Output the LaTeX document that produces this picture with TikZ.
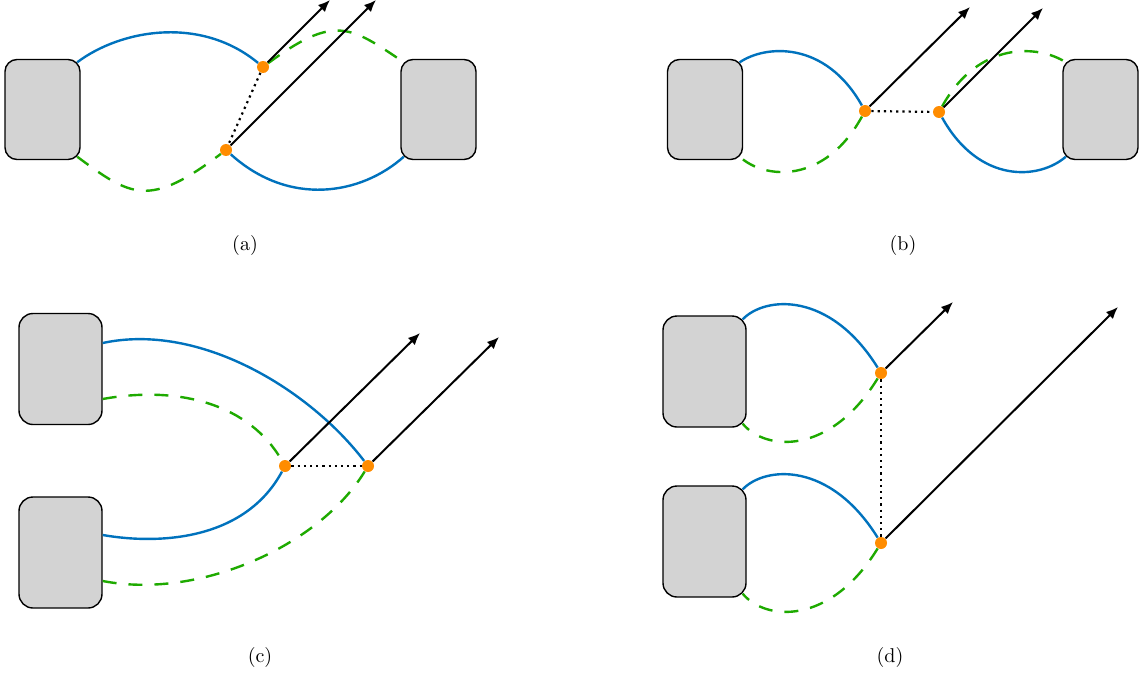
\documentclass[tikz,border=0pt]{standalone}
\usepackage{xcolor}
\usepackage{tikz}
\usetikzlibrary{arrows.meta}

\begin{document}
\begin{tikzpicture}[x=0.5pt, y=-0.5pt,
  scatola/.style={draw=black, line width=0.7pt, fill=colBox, rounded corners=6pt,
    minimum width=37.5pt, minimum height=50pt, inner sep=0pt},
  scatolaG/.style={scatola, rounded corners=7pt, minimum width=41.5pt, minimum height=55.5pt},
  punto/.style={circle, fill=colDot, inner sep=0pt, minimum size=6pt},
  blu/.style={colBlu, line width=1.2pt},
  verde/.style={colVer, line width=1.2pt, dash pattern=on 7pt off 6pt},
  freccia/.style={-{Latex[length=6pt,width=5pt]}, line width=1pt},
  legame/.style={dotted, line width=1.1pt}]

% Colori
\definecolor{colBlu}{HTML}{0072BD}
\definecolor{colVer}{RGB}{30,170,0}
\definecolor{colDot}{HTML}{FF8C00}
\definecolor{colBox}{HTML}{D3D3D3}

% Area del disegno
\useasboundingbox (0,0) rectangle (1144,674);

% Pannello (a)
\node[scatola] (aSx) at (42.5,109.5) {};
\node[scatola] (aDx) at (438.5,109.5) {};
\node[punto] (aA) at (263,67) {};
\node[punto] (aB) at (226,150) {};
\coordinate (aF1) at (330,0);
\coordinate (aF2) at (376,0);
\draw[blu] ([xshift=-1.75pt,yshift=-1.75pt]aSx.north east) .. controls (120,30) and (200,15) .. (aA);
\draw[blu] (aB) .. controls (289,207) and (361,195) .. ([xshift=1.75pt,yshift=1.75pt]aDx.south west);
\draw[verde] ([xshift=-1.75pt,yshift=1.75pt]aSx.south east) .. controls (131.5,197) and (149,208) .. (aB);
\draw[verde] (aA) .. controls (335,14) and (350,26) .. ([xshift=1.75pt,yshift=-1.75pt]aDx.north west);
\draw[legame] (aA) -- (aB);
\draw[freccia] (aA) -- (aF1);
\draw[freccia] (aB) -- (aF2);
\node (aTit) at (245,245) {(a)};

% Pannello (b)
\node[scatola] (bSx) at (705,109.5) {};
\node[scatola] (bDx) at (1100.5,109.5) {};
\node[punto] (bA) at (865,111) {};
\node[punto] (bB) at (939,112) {};
\coordinate (bF1) at (970,7);
\coordinate (bF2) at (1043,8);
\draw[blu] ([xshift=-1.75pt,yshift=-1.75pt]bSx.north east) .. controls (765,45) and (825,40) .. (bA);
\draw[verde] (bA) .. controls (825,184) and (765,180) .. ([xshift=-1.75pt,yshift=1.75pt]bSx.south east);
\draw[blu] (bB) .. controls (979,184) and (1039,180) .. ([xshift=1.75pt,yshift=1.75pt]bDx.south west);
\draw[verde] (bB) .. controls (979,40) and (1039,45) .. ([xshift=1.75pt,yshift=-1.75pt]bDx.north west);
\draw[legame] (bA) -- (bB);
\draw[freccia] (bA) -- (bF1);
\draw[freccia] (bB) -- (bF2);
\node (bTit) at (903,245) {(b)};

% Pannello (c)
\node[scatolaG] (cSu) at (60.5,369) {};
\node[scatolaG] (cGiu) at (60.5,552.5) {};
\node[punto] (cA) at (285,466) {};
\node[punto] (cB) at (368,466) {};
\coordinate (cF1) at (420,333);
\coordinate (cF2) at (499,337);
\draw[blu] ([yshift=13pt]cSu.east) .. controls (200,322) and (310,390) .. (cB);
\draw[verde] ([yshift=-15pt]cSu.east) .. controls (180,385) and (250,405) .. (cA);
\draw[blu] ([yshift=8.75pt]cGiu.east) .. controls (160,545) and (245,540) .. (cA);
\draw[verde] ([yshift=-14.25pt]cGiu.east) .. controls (200,600) and (320,545) .. (cB);
\draw[legame] (cA) -- (cB);
\draw[freccia] (cA) -- (cF1);
\draw[freccia] (cB) -- (cF2);
\node (cTit) at (260,657) {(c)};

% Pannello (d)
\node[scatolaG] (dSu) at (704.5,371.5) {};
\node[scatolaG] (dGiu) at (704.5,541.5) {};
\node[punto] (dA) at (881,373) {};
\node[punto] (dB) at (881,543) {};
\coordinate (dF1) at (953,302);
\coordinate (dF2) at (1118,307);
\draw[blu] ([xshift=-2pt,yshift=-2pt]dSu.north east) .. controls (765,296) and (830,291) .. (dA);
\draw[verde] (dA) .. controls (830,456) and (765,451) .. ([xshift=-2pt,yshift=2pt]dSu.south east);
\draw[blu] ([xshift=-2pt,yshift=-2pt]dGiu.north east) .. controls (765,466) and (830,461) .. (dB);
\draw[verde] (dB) .. controls (830,626) and (765,621) .. ([xshift=-2pt,yshift=2pt]dGiu.south east);
\draw[legame] (dA) -- (dB);
\draw[freccia] (dA) -- (dF1);
\draw[freccia] (dB) -- (dF2);
\node (dTit) at (890,657) {(d)};

\end{tikzpicture}
\end{document}
